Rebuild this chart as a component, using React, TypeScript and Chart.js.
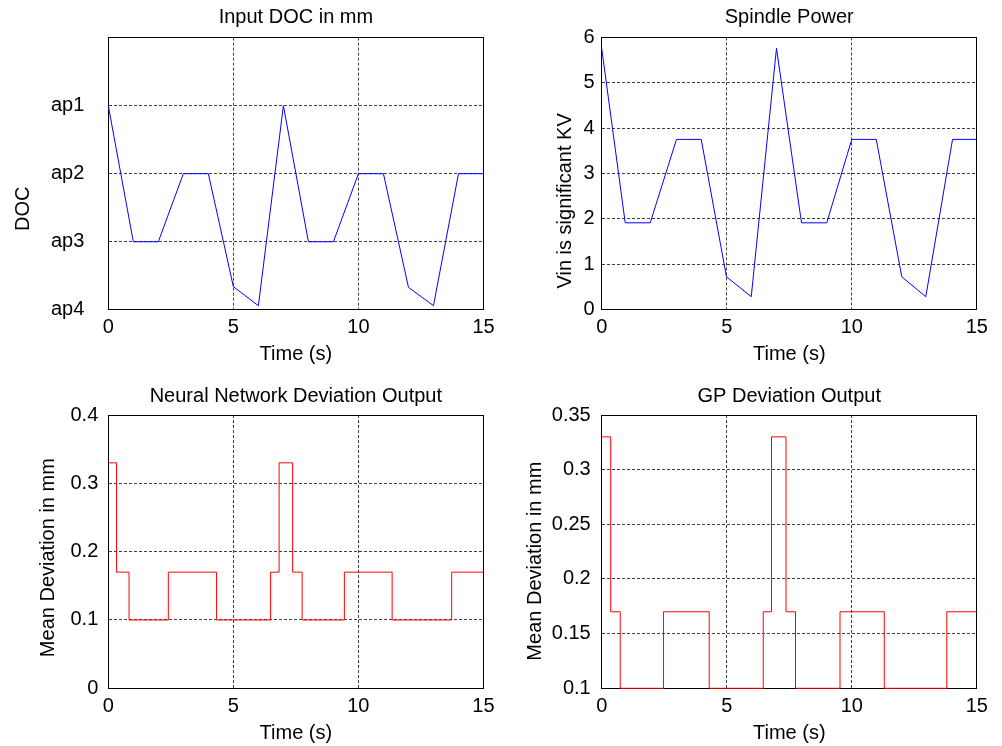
import React, { useEffect, useRef } from 'react';
import { Chart, registerables } from 'chart.js';

Chart.register(...registerables);

const FONT = "'Liberation Sans', Arial, Helvetica, sans-serif";
Chart.defaults.font.family = FONT;
Chart.defaults.color = '#000';

// ---- data ----
const TIME_TICK_STEP = 5;

const DOC_TIME = [0, 1, 2, 3, 4, 5, 6, 7, 8, 9, 10, 11, 12, 13, 14, 15];
const DOC_LEVEL = [1, 3, 3, 2, 2, 3.66, 3.94, 1, 3, 3, 2, 2, 3.67, 3.94, 2, 2];
const DOC_TICK_LABELS = ['', 'ap1', 'ap2', 'ap3', 'ap4'];

const POWER_TIME = [0, 0.94, 1.94, 2.99, 3.98, 4.99, 5.98, 6.99, 7.99, 9.0, 10.0, 10.98, 12.0, 12.96, 14.03, 15];
const POWER_KV = [5.76, 1.91, 1.91, 3.75, 3.75, 0.72, 0.28, 5.76, 1.91, 1.91, 3.75, 3.75, 0.72, 0.28, 3.75, 3.75];

const NN_TIME = [0, 0.33, 0.83, 2.4, 4.33, 6.49, 6.83, 7.37, 7.75, 9.44, 11.35, 13.73, 15];
const NN_DEV = [0.33, 0.17, 0.1, 0.17, 0.1, 0.17, 0.33, 0.17, 0.1, 0.17, 0.1, 0.17, 0.17];

const GP_TIME = [0, 0.36, 0.74, 2.47, 4.3, 6.46, 6.79, 7.37, 7.75, 9.53, 11.3, 13.8, 15];
const GP_DEV = [0.33, 0.17, 0.1, 0.17, 0.1, 0.17, 0.33, 0.17, 0.1, 0.17, 0.1, 0.17, 0.17];

// ---- layout / styling ----
const W = 1002;
const H = 746;
const XH = 57;
const LH = 24;
const GRID_COLOR = 'rgba(0,0,0,0.75)';
const fmt = (v: number) => String(Math.round(v * 100) / 100);

type Panel = {
  title: string;
  xTitle: string;
  yTitle: string;
  times: number[];
  values: number[];
  color: string;
  stepped: boolean;
  yMin: number;
  yMax: number;
  yStep: number;
  yReverse?: boolean;
  yLabel: (v: number) => string;
  area: { left: number; top: number; right: number; bottom: number };
  yScaleLeft: number;
  yTickPad: number;
  yTitlePad: number;
  yTitleShift: number;
  titlePadBottom: number;
};

const PANELS: Panel[] = [
  {
    title: 'Input DOC in mm', xTitle: 'Time (s)', yTitle: 'DOC',
    times: DOC_TIME, values: DOC_LEVEL, color: '#0000ff', stepped: false,
    yMin: 0, yMax: 4, yStep: 1, yReverse: true,
    yLabel: (v) => DOC_TICK_LABELS[Math.round(v)] ?? '',
    area: { left: 108.3, top: 37.6, right: 483.5, bottom: 309.8 },
    yScaleLeft: 0, yTickPad: 24, yTitlePad: 11.3, yTitleShift: 35, titlePadBottom: 8.4,
  },
  {
    title: 'Spindle Power', xTitle: 'Time (s)', yTitle: 'Vin is significant KV',
    times: POWER_TIME, values: POWER_KV, color: '#0000ff', stepped: false,
    yMin: 0, yMax: 6, yStep: 1,
    yLabel: fmt,
    area: { left: 601.7, top: 37.4, right: 976.8, bottom: 309.4 },
    yScaleLeft: 540, yTickPad: 7, yTitlePad: 13.5, yTitleShift: 27.5, titlePadBottom: 8.2,
  },
  {
    title: 'Neural Network Deviation Output', xTitle: 'Time (s)', yTitle: 'Mean Deviation in mm',
    times: NN_TIME, values: NN_DEV, color: '#ff0000', stepped: true,
    yMin: 0, yMax: 0.4, yStep: 0.1,
    yLabel: fmt,
    area: { left: 108.3, top: 415, right: 483.4, bottom: 688.3 },
    yScaleLeft: 0, yTickPad: 10, yTitlePad: 36, yTitleShift: 6, titlePadBottom: 6.3,
  },
  {
    title: 'GP Deviation Output', xTitle: 'Time (s)', yTitle: 'Mean Deviation in mm',
    times: GP_TIME, values: GP_DEV, color: '#ff0000', stepped: true,
    yMin: 0.1, yMax: 0.35, yStep: 0.05,
    yLabel: fmt,
    area: { left: 601.7, top: 415, right: 976.8, bottom: 688.3 },
    yScaleLeft: 510, yTickPad: 11, yTitlePad: 13.5, yTitleShift: 9.5, titlePadBottom: 6.3,
  },
];

const yTitleShiftPlugin = {
  id: 'yTitleShift',
  afterLayout(chart: any, _args: any, opts: any) {
    const scale: any = chart.scales.y;
    if (!scale || scale.__shifted) return;
    const base = Object.getPrototypeOf(scale).drawTitle;
    scale.drawTitle = function () {
      const ctx = this.ctx;
      ctx.save();
      ctx.translate(0, (opts && opts.dy) || 0);
      base.call(this);
      ctx.restore();
    };
    scale.__shifted = true;
  },
};

function buildConfig(p: Panel) {
  const data = p.times.map((t, i) => ({ x: t, y: p.values[i] }));
  const font = { size: 20, family: FONT, weight: 'normal' as const, lineHeight: 1.2 };
  const yWidth = p.area.left - p.yScaleLeft;
  return {
    type: 'line',
    data: {
      datasets: [
        {
          data,
          borderColor: p.color,
          backgroundColor: p.color,
          borderWidth: 1,
          pointRadius: 0,
          pointHoverRadius: 0,
          fill: false,
          tension: 0,
          stepped: p.stepped ? 'before' : false,
          clip: 3,
        },
      ],
    },
    options: {
      responsive: false,
      animation: false,
      events: [],
      layout: {
        padding: {
          left: p.yScaleLeft,
          right: W - p.area.right,
          top: p.area.top - LH - p.titlePadBottom,
          bottom: H - p.area.bottom - XH,
        },
      },
      plugins: {
        legend: { display: false },
        tooltip: { enabled: false },
        title: {
          display: true,
          text: p.title,
          fullSize: false,
          color: '#000',
          font,
          padding: { top: 0, bottom: p.titlePadBottom },
        },
        yTitleShift: { dy: p.yTitleShift },
      },
      scales: {
        x: {
          type: 'linear',
          position: 'bottom',
          min: 0,
          max: 15,
          ticks: {
            stepSize: TIME_TICK_STEP,
            padding: 6,
            maxRotation: 0,
            autoSkip: false,
            color: '#000',
            font,
            callback: (v: number) => fmt(v),
          },
          grid: { display: true, drawTicks: false, color: GRID_COLOR, lineWidth: 1 },
          border: { display: true, color: '#000', width: 1, dash: [3, 2] },
          title: { display: true, text: p.xTitle, color: '#000', font, padding: { top: 0, bottom: 0 } },
          afterFit: (s: any) => {
            s.height = XH;
          },
        },
        y: {
          type: 'linear',
          position: 'left',
          min: p.yMin,
          max: p.yMax,
          reverse: !!p.yReverse,
          ticks: {
            stepSize: p.yStep,
            padding: p.yTickPad,
            autoSkip: false,
            color: '#000',
            font,
            callback: (v: number) => p.yLabel(v),
          },
          grid: { display: true, drawTicks: false, color: GRID_COLOR, lineWidth: 1 },
          border: { display: true, color: '#000', width: 1, dash: [3, 2] },
          title: { display: true, text: p.yTitle, color: '#000', font, padding: { top: p.yTitlePad, bottom: 0 } },
          afterFit: (s: any) => {
            s.width = yWidth;
          },
        },
        x2: {
          type: 'linear',
          position: 'top',
          min: 0,
          max: 15,
          ticks: { display: false },
          grid: { display: false, drawTicks: false },
          border: { display: true, color: '#000', width: 1 },
          afterFit: (s: any) => {
            s.height = 0;
          },
        },
        y2: {
          type: 'linear',
          position: 'right',
          min: p.yMin,
          max: p.yMax,
          ticks: { display: false },
          grid: { display: false, drawTicks: false },
          border: { display: true, color: '#000', width: 1 },
          afterFit: (s: any) => {
            s.width = 0;
          },
        },
      },
    },
    plugins: [yTitleShiftPlugin],
  };
}

function ChartCanvas({ panel }: { panel: Panel }) {
  const ref = useRef<HTMLCanvasElement>(null);
  useEffect(() => {
    if (!ref.current) return;
    const chart = new Chart(ref.current, buildConfig(panel) as any);
    return () => chart.destroy();
  }, [panel]);
  return (
    <canvas
      ref={ref}
      width={W}
      height={H}
      style={{ position: 'absolute', left: 0, top: 0, width: W, height: H }}
    />
  );
}

export default function App() {
  return (
    <div
      style={{
        position: 'fixed',
        left: 0,
        top: 0,
        width: W,
        height: H,
        background: '#fff',
        overflow: 'hidden',
      }}
    >
      {PANELS.map((p, i) => (
        <ChartCanvas key={i} panel={p} />
      ))}
    </div>
  );
}
